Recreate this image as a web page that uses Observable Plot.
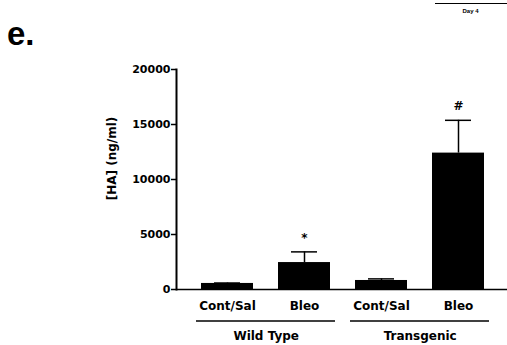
<!DOCTYPE html>
<html><head><meta charset="utf-8">
<script src="https://cdn.jsdelivr.net/npm/d3@7"></script>
<script src="https://cdn.jsdelivr.net/npm/@observablehq/plot@0.6"></script>
<style>
body{margin:0;background:#fff;}
#wrap{position:relative;width:507px;height:345px;overflow:hidden;}
#wrap svg{position:absolute;left:0;top:0;}
#panel{position:absolute;left:7px;top:17px;font:bold 33px "Liberation Sans",Arial,sans-serif;line-height:33px;color:#000;}
#day{position:absolute;left:420px;width:101px;top:8px;text-align:center;font:bold 6px "Liberation Sans",Arial,sans-serif;line-height:6px;color:#000;}
#dayline{position:absolute;left:435px;top:3px;width:72px;height:1px;background:#000;}
</style></head><body>
<div id="wrap">
  <div id="panel">e.</div>
  <div id="dayline"></div>
  <div id="day">Day 4</div>
</div>
<script>
const keys = ["WT-Cont", "WT-Bleo", "TG-Cont", "TG-Bleo"];
const groups = ["Wild Type", "Wild Type", "Transgenic", "Transgenic"];
const treatments = ["Cont/Sal", "Bleo", "Cont/Sal", "Bleo"];
const means = [550, 2450, 820, 12400];
const sems = [40, 970, 145, 2980];
const signif = ["", "*", "", "#"];
const groupNames = ["Wild Type", "Transgenic"];
const yTicks = [0, 5000, 10000, 15000, 20000];
const yLabel = "[HA] (ng/ml)";

const data = keys.map((k, i) => ({key: k, group: groups[i], treat: treatments[i], mean: means[i], sem: sems[i], sig: signif[i]}));
const groupRows = groupNames.map(g => {
  const rows = data.filter(d => d.group === g);
  return {name: g, first: rows[0].key, last: rows[rows.length - 1].key};
});

const W = 507, H = 345, ML = 176, MR = 0, MT = 69, MB = 56;
const xOpts = {domain: keys, paddingInner: 0.32, paddingOuter: 0.30, align: 0.53};
const xs = Plot.scale({x: {type: "band", ...xOpts, range: [ML, W - MR]}});

const plot = Plot.plot({
  width: W, height: H,
  marginLeft: ML, marginRight: MR, marginTop: MT, marginBottom: MB,
  style: {fontFamily: '"DejaVu Sans", sans-serif', fontWeight: "bold", color: "#000", background: "transparent"},
  x: xOpts,
  y: {domain: [0, 20000]},
  marks: [
    Plot.barY(data, {x: "key", y: "mean", fill: "#000"}),
    Plot.ruleX(data, {x: "key", y1: "mean", y2: d => d.mean + d.sem, stroke: "#000", strokeWidth: 1.5}),
    Plot.tickY(data, {x: "key", y: d => d.mean + d.sem, insetLeft: 13, insetRight: 13, stroke: "#000", strokeWidth: 1.5}),
    Plot.text(data, {x: "key", y: d => d.mean + d.sem, text: "sig", dy: -14, fontSize: 12, fontWeight: "bold", fill: "#000"}),
    Plot.ruleY([0], {stroke: "#000", strokeWidth: 1.5}),
    Plot.frame({anchor: "left", stroke: "#000", strokeWidth: 2}),
    Plot.axisY({ticks: yTicks, tickSize: 5, tickPadding: 1, tickFormat: d => String(d), fontSize: 11, label: null, strokeWidth: 1.5}),
    Plot.axisX({tickSize: 0, tickPadding: 12, tickFormat: k => data.find(d => d.key === k).treat, fontSize: 12, label: null}),
    Plot.text([yLabel], {frameAnchor: "left", textAnchor: "middle", lineAnchor: "middle", rotate: -90, dx: -64, dy: -21, text: d => d, fontSize: 12, fontWeight: "bold", fill: "#000"}),
    Plot.ruleY(groupRows, {x1: "first", x2: "last", y: () => 0, dy: 31.4, insetLeft: -5, insetRight: -5, stroke: "#000", strokeWidth: 1.5}),
    Plot.text(groupRows, {x: "first", dx: xs.step / 2, frameAnchor: "bottom", dy: 42.4, textAnchor: "middle", lineAnchor: "top", text: "name", fontSize: 12, fontWeight: "bold", fill: "#000"})
  ]
});
document.getElementById("wrap").prepend(plot);
</script>
</body></html>
